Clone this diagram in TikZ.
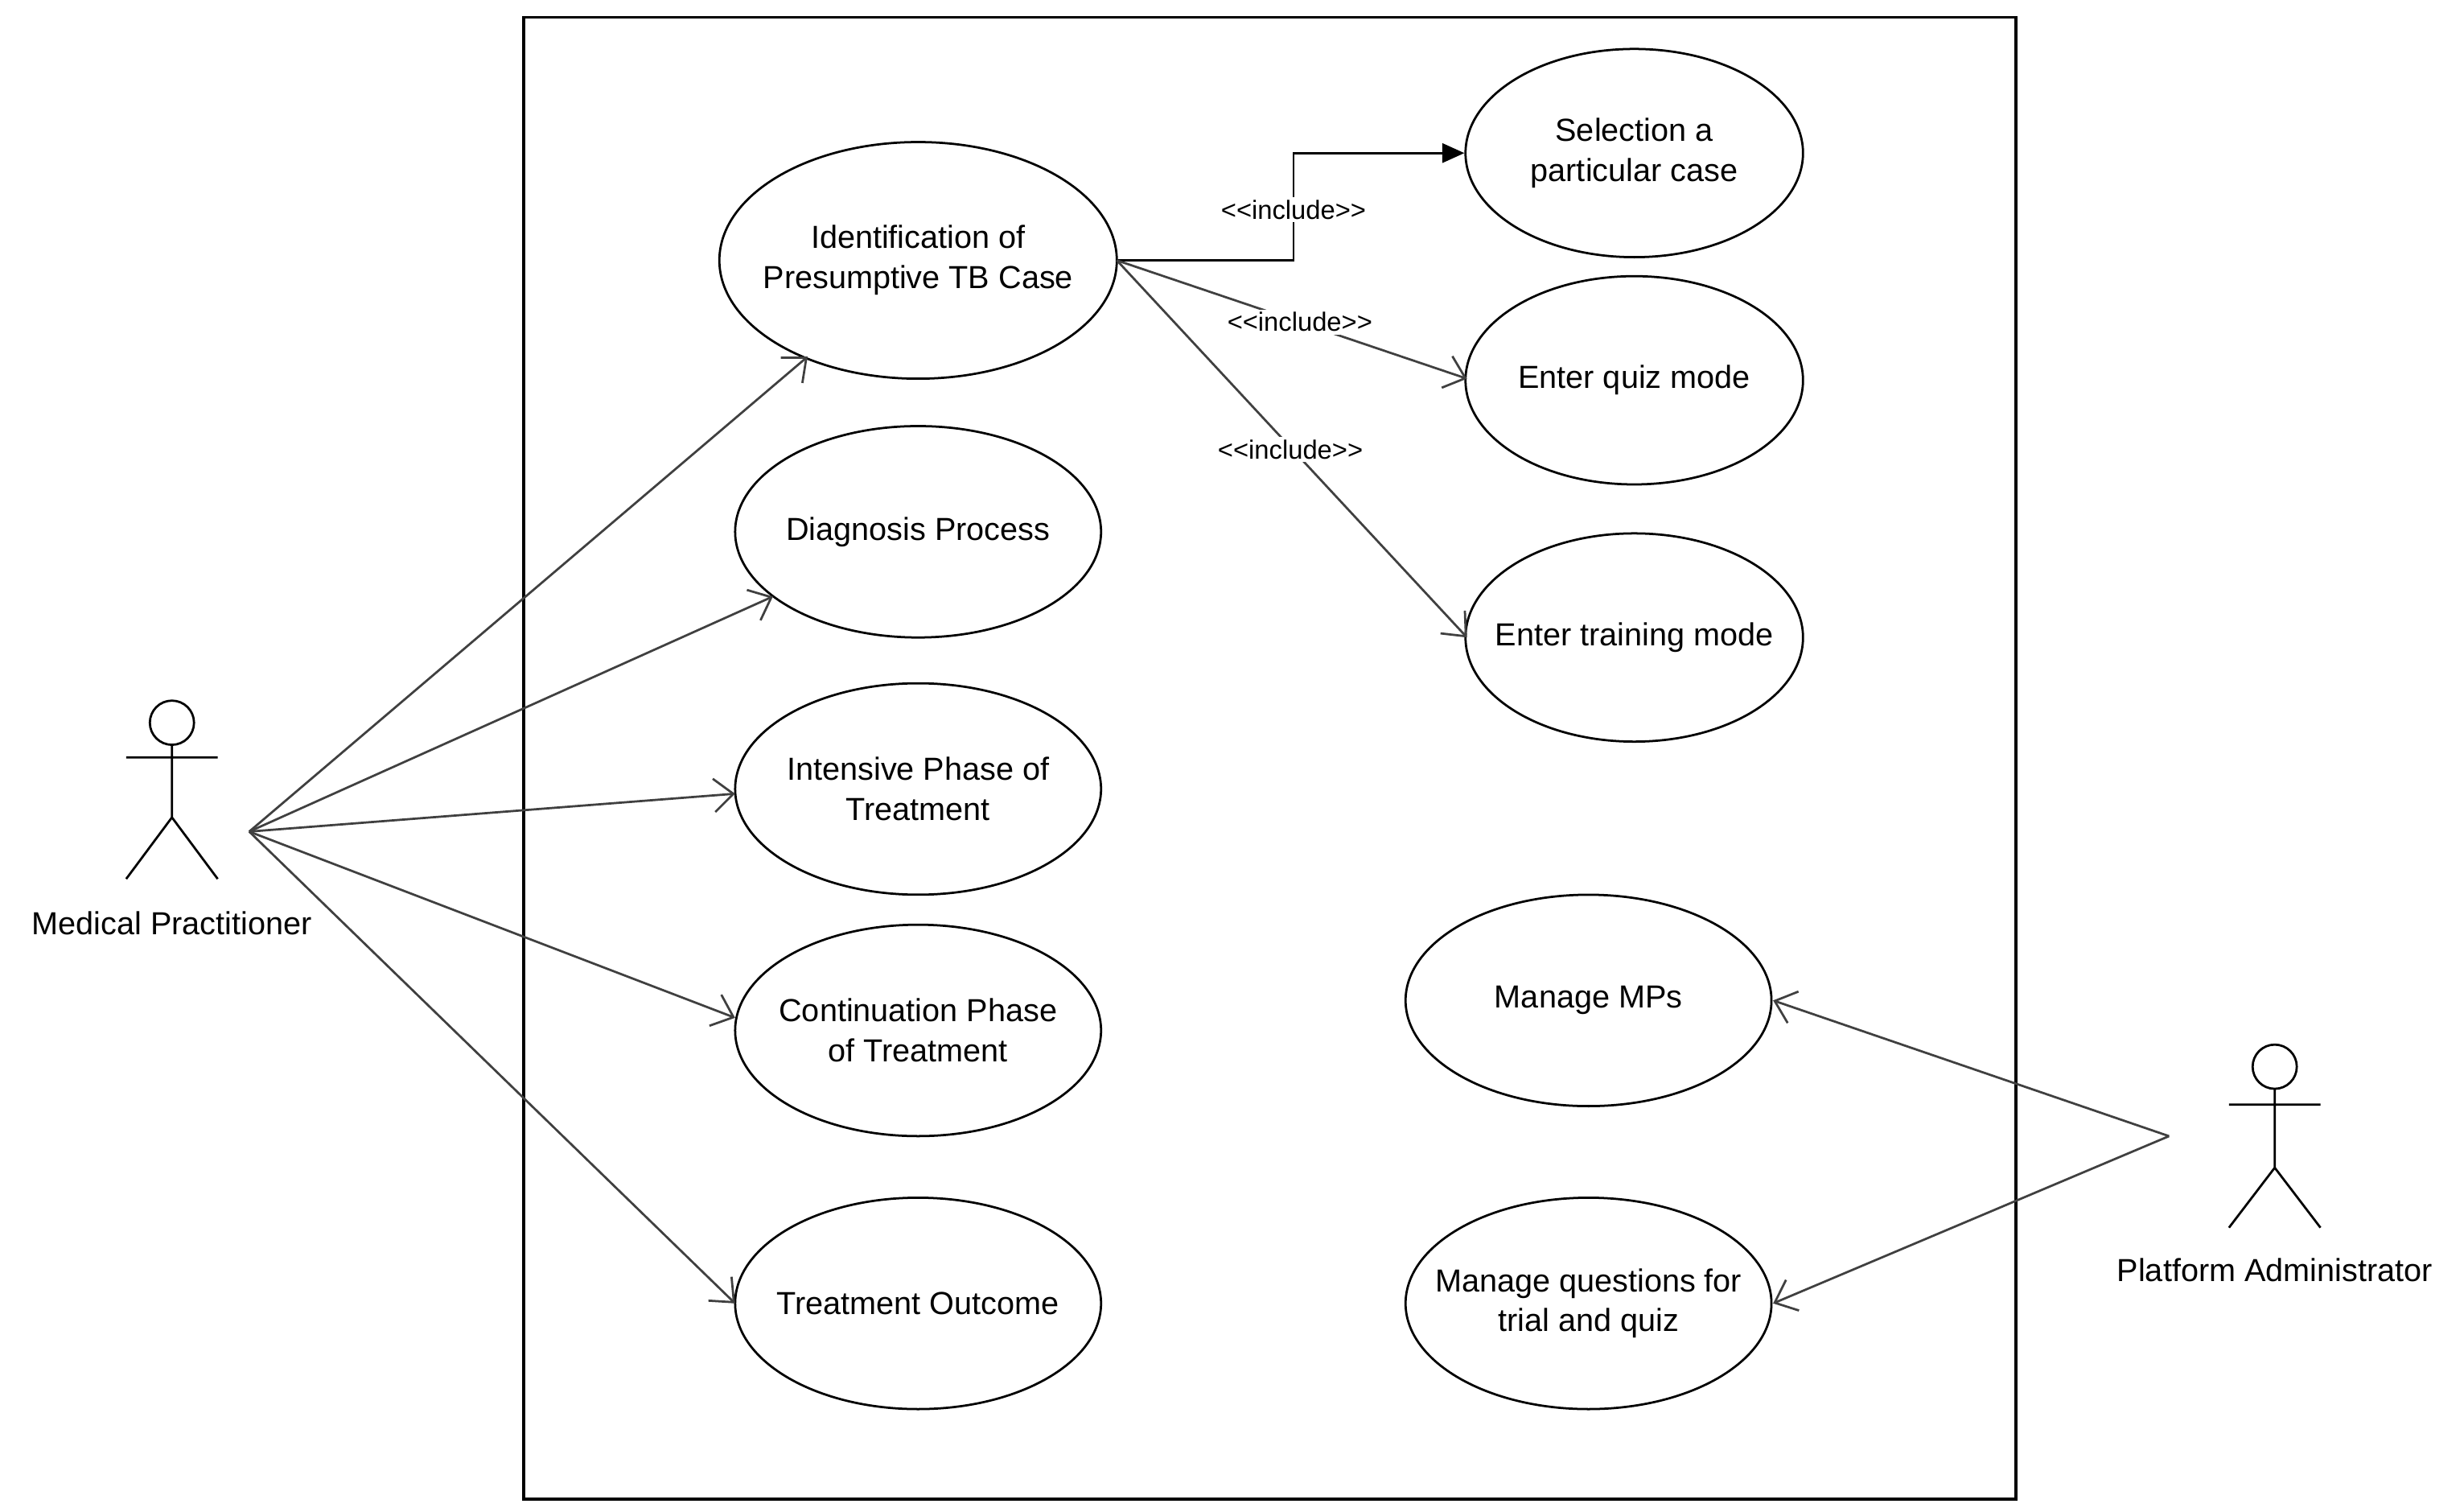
\documentclass[tikz,border=0pt]{standalone}
\usepackage{fontspec}
\setmainfont{Liberation Sans}
\usetikzlibrary{arrows.meta,shapes.geometric}
\begin{document}
\begin{tikzpicture}[x=0.02cm,y=-0.02cm,
  uc/.style={ellipse,draw,line width=0.8pt,align=center,font=\fontsize{11.5}{14.5}\selectfont,inner xsep=-14pt,inner ysep=-6pt},
  big/.style={uc,minimum width=5.04cm,minimum height=3cm},
  mid/.style={uc,minimum width=4.28cm,minimum height=2.64cm},
  std/.style={uc,minimum width=4.64cm,minimum height=2.68cm},
  assoc/.style={draw=black!75,line width=0.8pt,-{Straight Barb[length=7pt,width=12pt]}},
  lbl/.style={font=\fontsize{9.5}{11}\selectfont,fill=white,inner sep=1pt},
  act/.style={line width=0.8pt}]
\useasboundingbox (0,0) rectangle (1562,958);
\draw[line width=1pt] (332,11) rectangle (1278,950);
\node[big] (ident) at (582,165) {Identification of\\Presumptive TB Case};
\node[mid] (sel) at (1036,97) {Selection a\\particular case};
\node[mid] (quiz) at (1036,241) {Enter quiz mode};
\node[mid] (train) at (1036,404) {Enter training mode};
\node[std] (diag) at (582,337) {Diagnosis Process};
\node[std] (inten) at (582,500) {Intensive Phase of\\Treatment};
\node[std] (cont) at (582,653) {Continuation Phase\\of Treatment};
\node[std] (out) at (582,826) {Treatment Outcome};
\node[std] (mmp) at (1007,634) {Manage MPs};
\node[std] (mq) at (1007,826) {Manage questions for\\trial and quiz};
% actors
\draw[act] (109,458) circle (14);
\draw[act] (109,472) -- (109,518) (80,480) -- (138,480) (80,557) -- (109,518) -- (138,557);
\node[font=\fontsize{11.5}{14}\selectfont] (mpl) at (109,585) {Medical Practitioner};
\coordinate (mp) at (158,527);
\draw[act] (1442,676) circle (14);
\draw[act] (1442,690) -- (1442,740) (1413,700) -- (1471,700) (1413,778) -- (1442,740) -- (1471,778);
\node[font=\fontsize{11.5}{14}\selectfont] (adl) at (1442,805) {Platform Administrator};
\coordinate (ad) at (1375,720);
\coordinate (tI) at (512,226);
\coordinate (tD) at (490,378);
\coordinate (tN) at (466,503);
\coordinate (tC) at (466,645);
\coordinate (tO) at (466,826);
\coordinate (tM) at (1124,634);
\coordinate (tQ) at (1124,826);
\draw[assoc] (mp) -- (tI);
\draw[assoc] (mp) -- (tD);
\draw[assoc] (mp) -- (tN);
\draw[assoc] (mp) -- (tC);
\draw[assoc] (mp) -- (tO);
\draw[assoc] (ad) -- (tM);
\draw[assoc] (ad) -- (tQ);
% includes
\coordinate (iE) at (708,165);
\coordinate (tqz) at (930,240);
\coordinate (ttr) at (930,404);
\draw[line width=0.8pt,-{Triangle[length=8pt,width=7pt]}] (iE) -- (820,165) -- (820,97) -- (sel.west);
\node[lbl] (l1) at (820,133) {{<}{<}include{>}{>}};
\draw[assoc] (iE) -- (tqz);
\node[lbl] (l2) at (824,204) {{<}{<}include{>}{>}};
\draw[assoc] (iE) -- (ttr);
\node[lbl] (l3) at (818,285) {{<}{<}include{>}{>}};
\end{tikzpicture}
\end{document}
